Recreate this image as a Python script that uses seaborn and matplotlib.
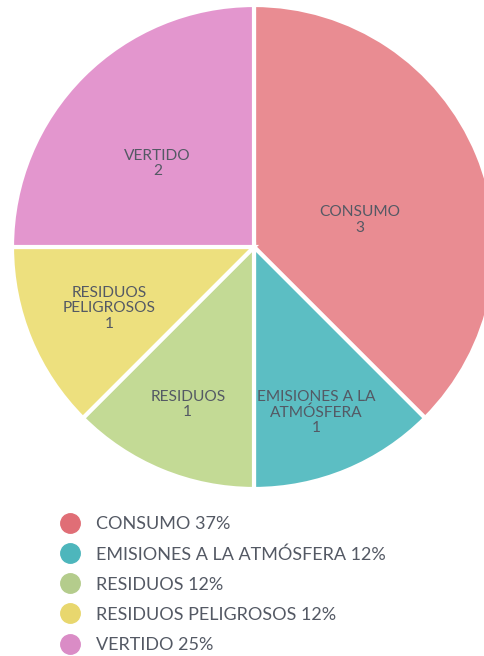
import matplotlib
matplotlib.use("Agg")
import matplotlib.pyplot as plt
import seaborn as sns
import numpy as np
from matplotlib.lines import Line2D

categories = ["CONSUMO", "EMISIONES A LA\nATMÓSFERA", "RESIDUOS", "RESIDUOS\nPELIGROSOS", "VERTIDO"]
legend_names = ["CONSUMO", "EMISIONES A LA ATMÓSFERA", "RESIDUOS", "RESIDUOS PELIGROSOS", "VERTIDO"]
values = [3, 1, 1, 1, 2]
percent_labels = ["37%", "12%", "12%", "12%", "25%"]
pie_colors = ["#E98C92", "#5CBEC3", "#C3DA95", "#EDE07E", "#E396CE"]
legend_colors = ["#E06E76", "#4DB6BC", "#B4CC8C", "#E8D76E", "#DA8CC6"]
label_radius = [0.453, 0.731, 0.706, 0.649, 0.526]
label_angle_shift = [-8.2, -1.9, -0.3, 0.5, 4.2]

sns.set_theme(style="white")
plt.rcParams['font.family'] = ['Lato', 'DejaVu Sans']
text_color = "#545964"

fig = plt.figure(figsize=(4.84, 6.56), dpi=100)
fig.patch.set_facecolor("white")
ax = fig.add_axes([12/484, 167/656, 484/484, 484/656])
wedges, texts = ax.pie(values, colors=pie_colors, startangle=90, counterclock=False,
                       labels=[f"{c}\n{v}" for c, v in zip(categories, values)],
                       labeldistance=0.5,
                       wedgeprops=dict(edgecolor="white", linewidth=3),
                       textprops=dict(color=text_color, fontsize=11.2, ha="center", va="center",
                                      multialignment="center", linespacing=1.12))
for w, t, r, s in zip(wedges, texts, label_radius, label_angle_shift):
    ang = np.deg2rad((w.theta1 + w.theta2) / 2 + s)
    t.set_position((r * np.cos(ang), r * np.sin(ang)))
    t.set_ha("center")
ax.set_xlim(-1, 1)
ax.set_ylim(-1, 1)
ax.set_aspect("equal")
ax.axis("off")

handles = [Line2D([0], [0], marker="o", linestyle="none", markersize=14,
                  markerfacecolor=c, markeredgecolor=c) for c in legend_colors]
labels = [f"{n} {p}" for n, p in zip(legend_names, percent_labels)]
fig.legend(handles, labels, loc="upper left", bbox_to_anchor=(50/484, 1 - 507/656),
           frameon=False, fontsize=13, labelcolor=text_color, handletextpad=0.85,
           labelspacing=0.78, borderpad=0, handlelength=1.2)

fig.savefig("out.png", dpi=100, facecolor="white")
